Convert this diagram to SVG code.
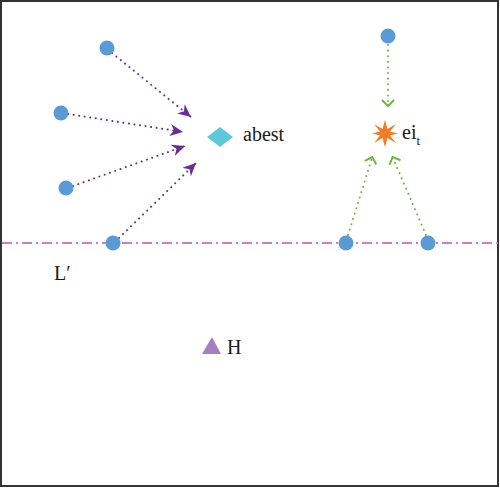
<svg xmlns="http://www.w3.org/2000/svg" width="500" height="488" viewBox="0 0 500 488">
<style>
.dot{fill:#5b9bd5}
.pl{stroke:#6a2d91;stroke-width:2;stroke-dasharray:0.1 5.5;stroke-linecap:round;fill:none}
.gl{stroke:#6fb440;stroke-width:2;stroke-dasharray:0.1 5.5;stroke-linecap:round;fill:none}
.lbl{font-family:"Liberation Serif",serif;font-size:20px;fill:#1a1a1a}
</style>
<defs>
<marker id="pa" markerUnits="userSpaceOnUse" markerWidth="14" markerHeight="12" viewBox="0 0 14 12" refX="13" refY="6" orient="auto">
<path d="M0,0 L13,6 L0,12 L4,6 Z" fill="#6a2d91"/>
</marker>
<marker id="ga" markerUnits="userSpaceOnUse" markerWidth="12" markerHeight="14" viewBox="0 0 12 14" refX="6" refY="7" orient="auto">
<path d="M1,1 L7,7 L1,13" fill="none" stroke="#6fb440" stroke-width="2"/>
</marker>
</defs>
<rect x="1" y="1" width="497" height="485" fill="#fff" stroke="#333" stroke-width="2"/>
<g id="line-L">
<line x1="2" y1="243" x2="498" y2="243" stroke="#cf7fbf" stroke-width="2" stroke-dasharray="10 4 2 4"/>
</g>
<g id="connectors">
<line class="pl" x1="112" y1="53" x2="191" y2="117" marker-end="url(#pa)"/>
<line class="pl" x1="68" y1="114" x2="183" y2="132" marker-end="url(#pa)"/>
<line class="pl" x1="73" y1="186" x2="185" y2="146" marker-end="url(#pa)"/>
<line class="pl" x1="119" y1="238" x2="196" y2="163" marker-end="url(#pa)"/>
<line class="gl" x1="388" y1="45" x2="388" y2="105" marker-end="url(#ga)"/>
<line class="gl" x1="348" y1="235" x2="372" y2="158" marker-end="url(#ga)"/>
<line class="gl" x1="426" y1="235" x2="393" y2="158" marker-end="url(#ga)"/>
</g>
<g id="p1"><circle class="dot" cx="107" cy="48" r="7.5"/></g>
<g id="p2"><circle class="dot" cx="61" cy="113" r="7.5"/></g>
<g id="p3"><circle class="dot" cx="66" cy="188" r="7.5"/></g>
<g id="p4"><circle class="dot" cx="113" cy="243" r="7.5"/></g>
<g id="p5"><circle class="dot" cx="388" cy="36" r="7.5"/></g>
<g id="p6"><circle class="dot" cx="346" cy="243" r="7.5"/></g>
<g id="p7"><circle class="dot" cx="428" cy="243" r="7.5"/></g>
<g id="abest">
<polygon points="207,137 220,127 233,137 220,147" fill="#5ec8d8"/>
<text class="lbl" x="243" y="141">abest</text>
</g>
<g id="eit">
<polygon points="385,120 387.5,129 396,124 390,131.5 398,133.5 390,135.5 396,143 387.5,138 385,147 382.5,138 374,143 380,135.5 372,133.5 380,131.5 374,124 382.5,129" fill="#f07d2a"/>
<text class="lbl" x="402" y="139">ei<tspan font-size="13px" dy="6">t</tspan></text>
</g>
<g id="Lp"><text class="lbl" x="54" y="280">L′</text></g>
<g id="H">
<polygon points="212,337 221,354 202,354" fill="#a77fbf"/>
<text class="lbl" x="227" y="354">H</text>
</g>
</svg>
